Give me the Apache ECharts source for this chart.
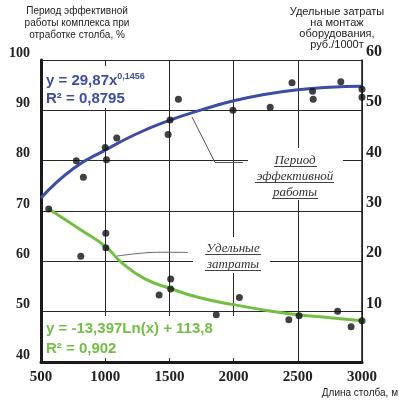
<!DOCTYPE html>
<html>
<head>
<meta charset="utf-8">
<script src="https://cdn.jsdelivr.net/npm/echarts@6/dist/echarts.min.js"></script>
<style>html,body{margin:0;padding:0;background:#fff;}#c{width:399px;height:402px;}</style>
</head>
<body>
<div id="c"></div>
<script>
// Длина столба, м
const xTicks = [500, 1000, 1500, 2000, 2500, 3000];
const leftTicks = [40, 50, 60, 70, 80, 90, 100];
const rightTicks = [0, 10, 20, 30, 40, 50, 60];

// Период эффективной работы комплекса, % (left axis)
const effX = [775, 830, 1000, 1010, 1090, 1490, 1505, 1570, 1995, 2285, 2455, 2615, 2620, 2835, 3000, 3000];
const effY = [80.0, 76.7, 82.6, 80.2, 84.5, 85.2, 88.1, 92.2, 90.0, 90.6, 95.5, 93.8, 92.2, 95.7, 94.2, 92.6];
const effTrendX = [500, 750, 1000, 1250, 1500, 1750, 2000, 2250, 2500, 2750, 3000];
const effTrendY = [72.6, 78.4, 82.1, 85.4, 88.0, 90.1, 91.9, 93.2, 94.1, 94.6, 94.8];

// Удельные затраты, руб./1000т (right axis)
const costX = [560, 810, 1005, 1005, 1420, 1510, 1510, 1865, 2045, 2430, 2510, 2810, 2915, 3000];
const costY = [30.4, 21.0, 25.6, 22.7, 13.3, 16.5, 14.5, 9.4, 12.8, 8.4, 9.2, 10.1, 7.0, 8.2];
const costTrendX = [560, 820, 1005, 1130, 1310, 1510, 1730, 2000, 2270, 2500, 2750, 3000];
const costTrendY = [30.4, 26.1, 22.9, 19.7, 16.5, 14.6, 12.8, 11.4, 10.2, 9.4, 8.8, 8.2];

const zip = (a, b) => a.map((v, i) => [v, b[i]]);
const serif = 'Liberation Serif';
const sans = 'Liberation Sans';
const blue = '#3a4ea6';
const green = '#72bf44';

const chart = echarts.init(document.getElementById('c'), null, {renderer: 'canvas'});
chart.setOption({
  animation: false,
  backgroundColor: '#fff',
  grid: {left: 41, right: 37, top: 60, bottom: 40, containLabel: false},
  xAxis: {
    type: 'value', min: xTicks[0], max: xTicks[xTicks.length - 1], interval: 500,
    axisLine: {show: true, lineStyle: {color: '#1a1a1a', width: 3}},
    axisTick: {show: false},
    splitLine: {show: true, lineStyle: {color: '#2a2a2a', width: 1}},
    axisLabel: {fontFamily: serif, fontWeight: 'bold', fontSize: 15, color: '#222', margin: 8,
      formatter: v => String(v)}
  },
  yAxis: [{
    type: 'value', min: leftTicks[0], max: leftTicks[leftTicks.length - 1], interval: 10,
    axisLine: {show: true, lineStyle: {color: '#1a1a1a', width: 3}},
    axisTick: {show: false},
    splitLine: {show: true, lineStyle: {color: '#2a2a2a', width: 1}},
    axisLabel: {fontFamily: serif, fontWeight: 'bold', fontSize: 14, color: '#222', margin: 11, verticalAlign: 'bottom',
      formatter: v => String(v)}
  }, {
    type: 'value', min: rightTicks[0], max: rightTicks[rightTicks.length - 1], interval: 10,
    position: 'right',
    axisLine: {show: true, lineStyle: {color: '#1a1a1a', width: 1.5}},
    axisTick: {show: false},
    splitLine: {show: false},
    axisLabel: {fontFamily: serif, fontWeight: 'bold', fontSize: 16, color: '#222', margin: 4, verticalAlign: 'bottom',
      formatter: v => v === 0 ? '' : String(v)}
  }],
  series: [{
    type: 'line', yAxisIndex: 0, data: zip(effTrendX, effTrendY), smooth: true,
    showSymbol: false, lineStyle: {color: blue, width: 3}, z: 3, silent: true
  }, {
    type: 'line', yAxisIndex: 1, data: zip(costTrendX, costTrendY), smooth: true,
    showSymbol: false, lineStyle: {color: green, width: 3}, z: 3, silent: true
  }, {
    type: 'scatter', yAxisIndex: 0, data: zip(effX, effY), symbolSize: 7,
    itemStyle: {color: '#111'}, z: 4
  }, {
    type: 'scatter', yAxisIndex: 1, data: zip(costX, costY), symbolSize: 7,
    itemStyle: {color: '#111'}, z: 4
  }],
  graphic: [
    // white label boxes interrupting the grid
    {type: 'rect', shape: {x: 44, y: 66, width: 111, height: 42}, style: {fill: '#fff'}, z: 1},
    {type: 'rect', shape: {x: 44, y: 316, width: 196, height: 42}, style: {fill: '#fff'}, z: 1},
    {type: 'rect', shape: {x: 248, y: 148, width: 95, height: 52}, style: {fill: '#fff'}, z: 1},
    {type: 'rect', shape: {x: 193, y: 237, width: 77, height: 36}, style: {fill: '#fff'}, z: 1},
    // axis titles
    {type: 'text', z: 5, style: {x: 77, y: 5, text: 'Период эффективной\nработы комплекса при\nотработке столба, %',
      textAlign: 'center', fontFamily: sans, fontSize: 10, lineHeight: 12, fill: '#222'}},
    {type: 'text', z: 5, style: {x: 337, y: 6, text: 'Удельные затраты\nна монтаж\nоборудования,\nруб./1000т',
      textAlign: 'center', fontFamily: sans, fontSize: 11, lineHeight: 11, fill: '#222'}},
    {type: 'text', z: 5, style: {x: 398, y: 388, text: 'Длина столба, м', textAlign: 'right',
      fontFamily: sans, fontSize: 10, fill: '#222'}},
    // regression equations
    {type: 'text', z: 5, style: {x: 46, y: 72, text: '{a|y = 29,87x}{s|0,1456}\n{a|R² = 0,8795}',
      rich: {a: {fontFamily: sans, fontWeight: 'bold', fontSize: 15, fill: blue, lineHeight: 18},
             s: {fontFamily: sans, fontWeight: 'bold', fontSize: 9, fill: blue, verticalAlign: 'top', lineHeight: 18}}}},
    {type: 'text', z: 5, style: {x: 46, y: 319, text: 'y = -13,397Ln(x) + 113,8\nR² = 0,902',
      fontFamily: sans, fontWeight: 'bold', fontSize: 15, lineHeight: 20, fill: green}},
    // annotation labels
    {type: 'text', z: 5, style: {x: 295, y: 153, text: 'Период\nэффективной\nработы', textAlign: 'center',
      fontFamily: serif, fontStyle: 'italic', fontSize: 13, lineHeight: 16, fill: '#333'}},
    {type: 'line', z: 5, shape: {x1: 274, y1: 166.5, x2: 317, y2: 166.5}, style: {stroke: '#444', lineWidth: 1}},
    {type: 'line', z: 5, shape: {x1: 255, y1: 182.5, x2: 334, y2: 182.5}, style: {stroke: '#444', lineWidth: 1}},
    {type: 'line', z: 5, shape: {x1: 272, y1: 198.5, x2: 318, y2: 198.5}, style: {stroke: '#444', lineWidth: 1}},
    {type: 'text', z: 5, style: {x: 233, y: 241, text: 'Удельные\nзатраты', textAlign: 'center',
      fontFamily: serif, fontStyle: 'italic', fontSize: 13, lineHeight: 16, fill: '#333'}},
    {type: 'line', z: 5, shape: {x1: 205, y1: 254.5, x2: 261, y2: 254.5}, style: {stroke: '#444', lineWidth: 1}},
    {type: 'line', z: 5, shape: {x1: 205, y1: 270.5, x2: 261, y2: 270.5}, style: {stroke: '#444', lineWidth: 1}},
    // leader lines
    {type: 'polyline', z: 5, shape: {points: [[192, 117], [215, 162.5], [243, 162.5]]}, style: {stroke: '#555', lineWidth: 1, fill: null}},
    {type: 'polyline', z: 5, shape: {points: [[117, 256], [150, 252.5], [188, 252.5]], smooth: 0.3}, style: {stroke: '#666', lineWidth: 1, fill: null}}
  ]
});
</script>
</body>
</html>
